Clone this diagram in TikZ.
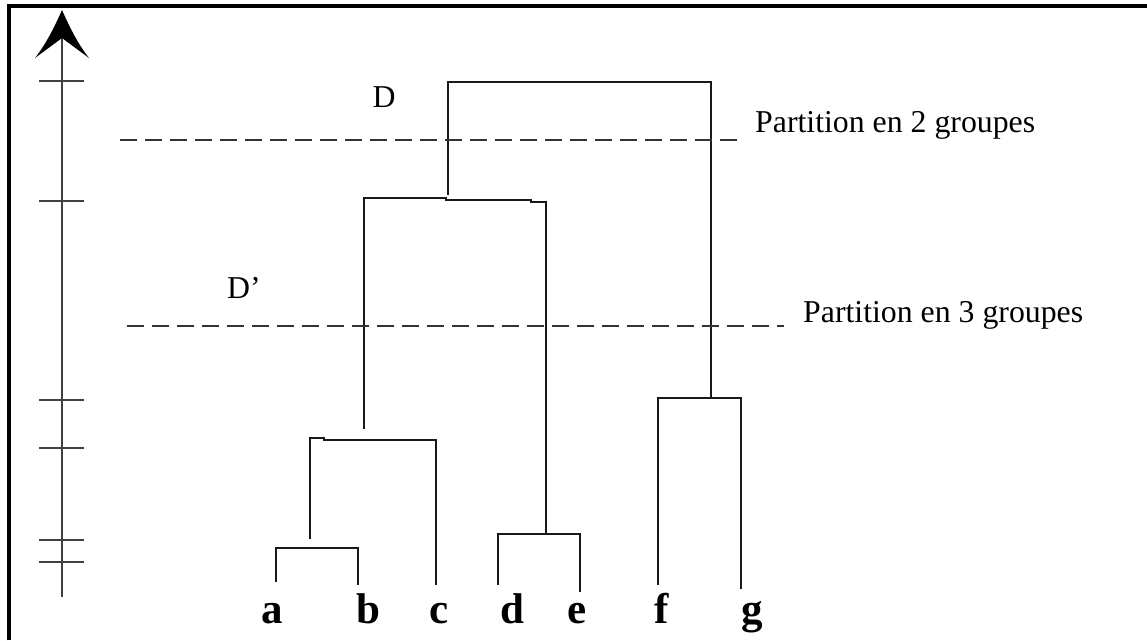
\documentclass[tikz,border=0pt]{standalone}
\usepackage{fontspec}
\setmainfont{Liberation Serif}
\begin{document}
\begin{tikzpicture}[x=1pt,y=-1pt,
  frameline/.style={line width=3.4pt,black},
  axisline/.style={line width=2.6pt,black!75},
  branch/.style={line width=2.4pt,black!90,line join=miter},
  cutline/.style={line width=2.4pt,black!80,dash pattern=on 17pt off 8pt},
  leaf/.style={anchor=base,inner sep=0pt,font=\fontsize{43}{48}\selectfont\bfseries},
  caption/.style={anchor=base west,inner sep=0pt,font=\fontsize{31.8}{36}\selectfont}]
\useasboundingbox (0,0) rectangle (1147,640);

% frame
\draw[frameline] (9,640) -- (9,6) -- (1147,6);

% vertical distance axis with its arrow head and ticks
\coordinate (axbot) at (62,597);
\coordinate (axtop) at (62,36);
\draw[axisline] (axbot) -- (axtop);
\fill[black] (62,10) .. controls (70,28) and (78,44) .. (89,58)
  -- (62,38) -- (35,58) .. controls (46,44) and (54,28) .. cycle;
\foreach \t in {81,201,400,448,540,562}
  \draw[axisline] (39,\t) -- (84,\t);

% leaf labels
\node[leaf] (a) at (272,623) {a};
\node[leaf] (b) at (368,623) {b};
\node[leaf] (c) at (439,623) {c};
\node[leaf] (d) at (512,623) {d};
\node[leaf] (e) at (577,623) {e};
\node[leaf] (f) at (662,623) {f};
\node[leaf] (g) at (752,623) {g};

% branch end points
\coordinate (ta) at (276,582);
\coordinate (tb) at (358,585);
\coordinate (tc) at (436,585);
\coordinate (td) at (498,585);
\coordinate (te) at (580,592);
\coordinate (tf) at (658,585);
\coordinate (tg) at (741,589);
\coordinate (jab) at (310,539);
\coordinate (jabc) at (364,429);
\coordinate (jde) at (546,534);
\coordinate (jleft) at (448,195);
\coordinate (jfg) at (711,398);

% dendrogram branches
\draw[branch] (ta) -- (276,548) -- (358,548) -- (tb);
\draw[branch] (jab) -- (310,438) -- (324,438) -- (324,440) -- (436,440) -- (tc);
\draw[branch] (jabc) -- (364,198) -- (446,198) -- (446,200) -- (531,200)
  -- (531,202) -- (546,202) -- (jde);
\draw[branch] (td) -- (498,534) -- (580,534) -- (te);
\draw[branch] (tf) -- (658,398) -- (741,398) -- (tg);
\draw[branch] (jleft) -- (448,82) -- (711,82) -- (jfg);

% cut levels
\coordinate (cut2w) at (120,140);
\coordinate (cut2e) at (738,140);
\coordinate (cut3w) at (127,326);
\coordinate (cut3e) at (784,326);
\draw[cutline] (cut2w) -- (cut2e);
\draw[cutline] (cut3w) -- (cut3e);

% labels of the cuts
\node[caption,anchor=base] (D) at (384,107) {D};
\node[caption] (Dp) at (227,298) {D’};
\node[caption] (p2) at (755,132) {Partition en 2 groupes};
\node[caption] (p3) at (803,322) {Partition en 3 groupes};
\end{tikzpicture}
\end{document}
